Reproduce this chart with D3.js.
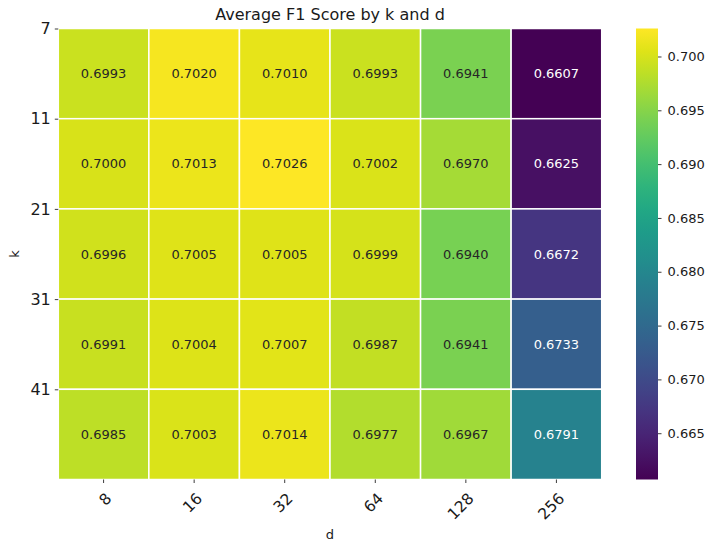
<!DOCTYPE html>
<html>
<head>
<meta charset="utf-8">
<script src="https://cdn.jsdelivr.net/npm/d3@7"></script>
<style>
  html, body { margin: 0; padding: 0; background: #fff; }
  svg { display: block; font-family: "DejaVu Sans", sans-serif; }
</style>
</head>
<body>
<svg id="chart" width="708" height="544"></svg>
<script>
// Row labels (k) and column labels (d)
const kValues = [7, 11, 21, 31, 41];
const dValues = [8, 16, 32, 64, 128, 256];

// Average F1 score per k (one array per row, ordered by d)
const f1_k7  = [0.6993, 0.7020, 0.7010, 0.6993, 0.6941, 0.6607];
const f1_k11 = [0.7000, 0.7013, 0.7026, 0.7002, 0.6970, 0.6625];
const f1_k21 = [0.6996, 0.7005, 0.7005, 0.6999, 0.6940, 0.6672];
const f1_k31 = [0.6991, 0.7004, 0.7007, 0.6987, 0.6941, 0.6733];
const f1_k41 = [0.6985, 0.7003, 0.7014, 0.6977, 0.6967, 0.6791];
const f1Rows = [f1_k7, f1_k11, f1_k21, f1_k31, f1_k41];

// Colour bar tick values
const colorTicks = [0.665, 0.670, 0.675, 0.680, 0.685, 0.690, 0.695, 0.700];

const svg = d3.select("#chart");
const plot = { left: 58.3, top: 28.5, right: 601.7, bottom: 479.5 };
const cbar = { left: 636, width: 22 };

const cells = [];
f1Rows.forEach((row, i) => row.forEach((v, j) => cells.push({ k: kValues[i], d: dValues[j], v })));

const vmin = d3.min(cells, c => c.v);
const vmax = d3.max(cells, c => c.v);

const x = d3.scaleBand().domain(dValues).range([plot.left, plot.right]);
const y = d3.scaleBand().domain(kValues).range([plot.top, plot.bottom]);
const color = d3.scaleSequential(d3.interpolateViridis).domain([vmin, vmax]);

// Heatmap cells
svg.append("g").selectAll("rect").data(cells).join("rect")
  .attr("x", c => x(c.d))
  .attr("y", c => y(c.k))
  .attr("width", x.bandwidth())
  .attr("height", y.bandwidth())
  .attr("fill", c => color(c.v))
  .attr("stroke", "#fff")
  .attr("stroke-width", 1.5);

// Cell annotations: light text on dark cells
function luminance(c) {
  const rgb = d3.rgb(c);
  const f = u => { u /= 255; return u <= 0.03928 ? u / 12.92 : Math.pow((u + 0.055) / 1.055, 2.4); };
  return 0.2126 * f(rgb.r) + 0.7152 * f(rgb.g) + 0.0722 * f(rgb.b);
}
svg.append("g").selectAll("text").data(cells).join("text")
  .attr("x", c => x(c.d) + x.bandwidth() / 2)
  .attr("y", c => y(c.k) + y.bandwidth() / 2)
  .attr("text-anchor", "middle")
  .attr("dominant-baseline", "central")
  .attr("font-size", 13)
  .attr("fill", c => luminance(color(c.v)) > 0.408 ? "#262626" : "#ffffff")
  .text(c => c.v.toFixed(4));

// X axis (ticks at column centres, rotated labels)
const xAxis = svg.append("g")
  .attr("transform", `translate(0,${plot.bottom})`)
  .call(d3.axisBottom(x).tickSize(3.5).tickPadding(3));
xAxis.select(".domain").remove();
xAxis.selectAll(".tick line").attr("stroke", "#262626").attr("stroke-width", 0.9);
xAxis.selectAll(".tick text")
  .attr("font-size", 15.5)
  .attr("fill", "#1a1a1a")
  .attr("font-family", "DejaVu Sans, sans-serif")
  .attr("text-anchor", "end")
  .attr("dy", null)
  .attr("y", 0)
  .attr("transform", "translate(9,20) rotate(-45)");

// Y axis (ticks at the top edge of each row)
const yEdge = d3.scaleOrdinal(kValues, kValues.map(k => y(k)));
const yAxis = svg.append("g")
  .attr("transform", `translate(${plot.left},0)`)
  .call(d3.axisLeft(yEdge).tickSize(3.5).tickPadding(4));
yAxis.select(".domain").remove();
yAxis.selectAll(".tick line").attr("stroke", "#262626").attr("stroke-width", 0.9);
yAxis.selectAll(".tick text")
  .attr("font-size", 16)
  .attr("fill", "#1a1a1a")
  .attr("font-family", "DejaVu Sans, sans-serif");

// Axis titles and chart title
svg.append("text")
  .attr("x", (plot.left + plot.right) / 2).attr("y", 539)
  .attr("text-anchor", "middle").attr("font-size", 13).attr("fill", "#1a1a1a")
  .text("d");
svg.append("text")
  .attr("transform", `translate(19,${(plot.top + plot.bottom) / 2}) rotate(-90)`)
  .attr("text-anchor", "middle").attr("font-size", 13).attr("fill", "#1a1a1a")
  .text("k");
svg.append("text")
  .attr("x", (plot.left + plot.right) / 2).attr("y", 20)
  .attr("text-anchor", "middle").attr("font-size", 16).attr("fill", "#1a1a1a")
  .text("Average F1 Score by k and d");

// Colour bar
const cy = d3.scaleLinear().domain([vmin, vmax]).range([plot.bottom, plot.top]);
const grad = svg.append("defs").append("linearGradient")
  .attr("id", "cbar-grad").attr("x1", 0).attr("y1", 1).attr("x2", 0).attr("y2", 0);
d3.range(0, 1.0001, 0.05).forEach(t => {
  grad.append("stop").attr("offset", t).attr("stop-color", d3.interpolateViridis(t));
});
svg.append("rect")
  .attr("x", cbar.left).attr("y", plot.top)
  .attr("width", cbar.width).attr("height", plot.bottom - plot.top)
  .attr("fill", "url(#cbar-grad)");
const cAxis = svg.append("g")
  .attr("transform", `translate(${cbar.left + cbar.width},0)`)
  .call(d3.axisRight(cy).tickValues(colorTicks).tickFormat(d3.format(".3f")).tickSize(3.5).tickPadding(6));
cAxis.select(".domain").remove();
cAxis.selectAll(".tick line").attr("stroke", "#262626").attr("stroke-width", 0.9);
cAxis.selectAll(".tick text")
  .attr("font-size", 13)
  .attr("fill", "#1a1a1a")
  .attr("font-family", "DejaVu Sans, sans-serif");
</script>
</body>
</html>
